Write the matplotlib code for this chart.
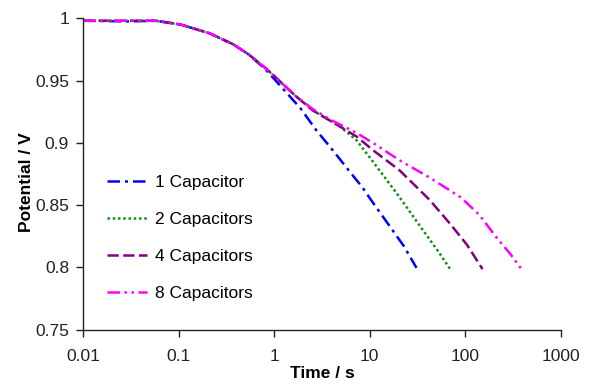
import matplotlib.pyplot as plt
from matplotlib.ticker import FixedLocator, NullLocator

plt.rcParams['font.family'] = ['Liberation Sans', 'DejaVu Sans']

t_1 = [0.01, 0.03, 0.058, 0.105, 0.21, 0.375, 0.54, 0.81, 1.09, 1.87, 2.76, 4.1, 6.14, 8.4, 10.1, 15.8, 22.7, 30.8]
v_1 = [0.998, 0.9975, 0.998, 0.995, 0.988, 0.979, 0.971, 0.959, 0.948, 0.928, 0.910, 0.894, 0.877, 0.864, 0.855, 0.834, 0.817, 0.7995]

t_2 = [0.01, 0.03, 0.058, 0.105, 0.21, 0.375, 0.54, 0.81, 1.09, 1.65, 2.54, 3.8, 4.9, 7.27, 11.25, 19.3, 34.3, 51.7, 71.5]
v_2 = [0.998, 0.998, 0.998, 0.995, 0.988, 0.979, 0.971, 0.960, 0.951, 0.938, 0.926, 0.918, 0.913, 0.902, 0.883, 0.859, 0.832, 0.813, 0.797]

t_4 = [0.01, 0.03, 0.058, 0.105, 0.21, 0.375, 0.54, 0.81, 1.09, 1.65, 2.54, 3.8, 4.9, 7.27, 11.25, 20.4, 42.4, 69, 104, 151]
v_4 = [0.998, 0.998, 0.998, 0.995, 0.988, 0.979, 0.971, 0.960, 0.951, 0.938, 0.926, 0.918, 0.913, 0.905, 0.893, 0.878, 0.854, 0.835, 0.818, 0.7985]

t_8 = [0.01, 0.03, 0.058, 0.105, 0.21, 0.375, 0.54, 0.81, 1.09, 1.65, 2.54, 4.0, 7.27, 11.25, 20.4, 42.4, 90, 140, 216, 293, 386]
v_8 = [0.998, 0.998, 0.998, 0.995, 0.988, 0.979, 0.971, 0.960, 0.951, 0.938, 0.927, 0.918, 0.908, 0.899, 0.886, 0.872, 0.856, 0.842, 0.823, 0.811, 0.7985]

labels = ['1 Capacitor', '2 Capacitors', '4 Capacitors', '8 Capacitors']
x_ticks = [0.01, 0.1, 1, 10, 100, 1000]
x_ticklabels = ['0.01', '0.1', '1', '10', '100', '1000']
y_ticks = [0.75, 0.8, 0.85, 0.9, 0.95, 1]
y_ticklabels = ['0.75', '0.8', '0.85', '0.9', '0.95', '1']

# Plot erstellen
fig = plt.figure(figsize=(5.9, 3.84), dpi=100)
ax = fig.add_axes([83 / 590, 1 - 329.5 / 384, (561 - 83) / 590, (329.5 - 18.3) / 384])

lw = 1.8
ax.plot(t_1, v_1, color='#0000ff', lw=lw, linestyle=(0, (5, 2, 1.2, 2)), label=labels[0])
ax.plot(t_2, v_2, color='#109010', lw=lw, linestyle=(0, (1, 1.1)), label=labels[1])
ax.plot(t_4, v_4, color='#800080', lw=lw, linestyle=(0, (4.5, 1.8)), label=labels[2])
ax.plot(t_8, v_8, color='#ff00ff', lw=lw, linestyle=(0, (5, 1.8, 1, 1.8, 1, 1.8)), label=labels[3])

ax.set_xscale('log')
ax.set_xlim(0.01, 1000)
ax.set_ylim(0.75, 1)
ax.xaxis.set_major_locator(FixedLocator(x_ticks))
ax.xaxis.set_minor_locator(NullLocator())
ax.set_xticklabels(x_ticklabels)
ax.set_yticks(y_ticks)
ax.set_yticklabels(y_ticklabels)
ax.tick_params(axis='both', labelsize=12.5, direction='out', length=5, width=1, colors='#222222')
ax.tick_params(axis='x', pad=9)
ax.tick_params(axis='y', pad=5)

for side in ['top', 'right']:
    ax.spines[side].set_visible(False)
for side in ['left', 'bottom']:
    ax.spines[side].set_color('#222222')
    ax.spines[side].set_linewidth(1)

ax.set_xlabel('Time / s', fontsize=12.5, fontweight='bold')
ax.set_ylabel('Potential / V', fontsize=12.5, fontweight='bold')
ax.xaxis.set_label_coords(0.5, -0.118)
ax.yaxis.set_label_coords(-0.1025, 0.475)

ax.legend(loc='upper left', bbox_to_anchor=(107 / 590, 1 - 175 / 384), bbox_transform=fig.transFigure,
          frameon=False, fontsize=12.5, handlelength=2.3, handletextpad=0.46, labelspacing=1.26,
          borderaxespad=0, borderpad=0)

# Grafik speichern
fig.savefig('out.png', dpi=100)
